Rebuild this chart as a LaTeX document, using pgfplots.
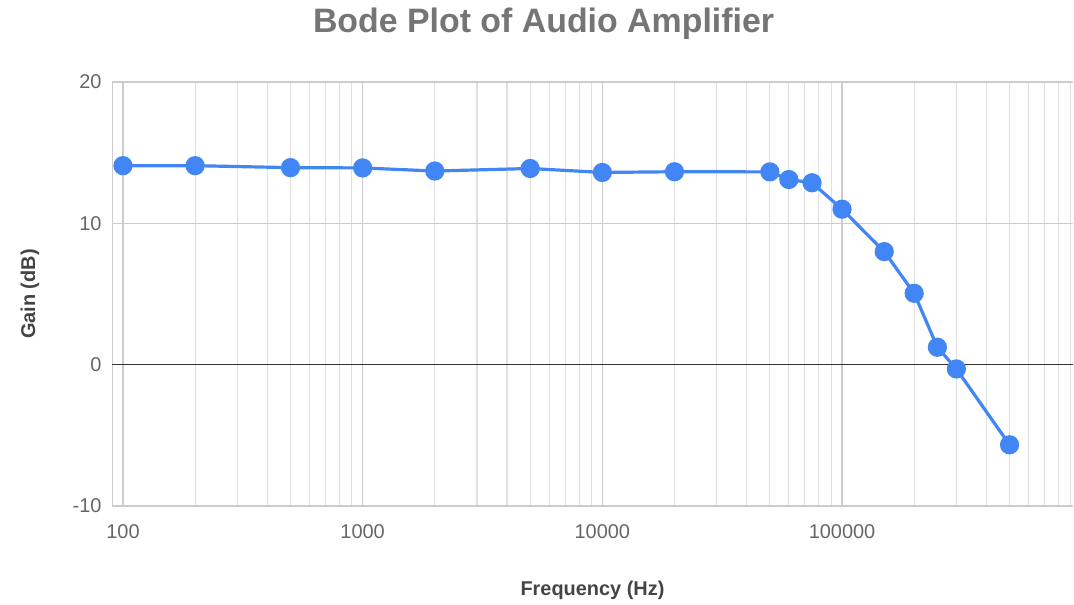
\documentclass[border=0pt]{standalone}
\usepackage{pgfplots}
\pgfplotsset{compat=1.18}
\usepackage{fontspec}
\setmainfont{Liberation Sans}
\definecolor{lineblue}{HTML}{4285F4}
\definecolor{titlegray}{HTML}{757575}
\definecolor{tickgray}{HTML}{666666}
\definecolor{labelgray}{HTML}{444444}
\definecolor{majgrid}{HTML}{CCCCCC}
\definecolor{mingrid}{HTML}{E0E0E0}
\begin{document}
\begin{tikzpicture}
\path[use as bounding box] (0,0) rectangle (1074bp,605bp);
\begin{axis}[
  at={(112bp,99bp)}, anchor=south west,
  scale only axis, width=961bp, height=424bp,
  xmode=log, xmin=90, xmax=920000,
  ymin=-10, ymax=20,
  ytick={-10,0,10,20},
  xtick={100,1000,10000,100000},
  xticklabels={100,1000,10000,100000},
  minor xtick={200,300,400,500,600,700,800,900,2000,3000,4000,5000,6000,7000,8000,9000,20000,30000,40000,50000,60000,70000,80000,90000,200000,300000,400000,500000,600000,700000,800000,900000},
  grid=both,
  major grid style={majgrid, line width=1.1bp},
  minor grid style={mingrid, line width=1.1bp},
  extra y ticks={0},
  extra y tick labels={},
  extra y tick style={grid=major, major grid style={black!80, line width=1.3bp}},
  axis line style={majgrid, line width=1bp},
  axis x line*=bottom, axis y line*=left,
  major tick length=0pt, minor tick length=0pt,
  tick style={draw=none},
  /pgf/number format/assume math mode=true,
  ticklabel style={font=\fontsize{20}{22}\selectfont, text=tickgray},
  xticklabel style={yshift=-15bp},
  yticklabel style={xshift=-7bp},
  title={Bode Plot of Audio Amplifier},
  title style={font=\fontsize{34}{38}\selectfont\bfseries, text=titlegray, at={(axis description cs:0.5,1)}, anchor=center, yshift=52bp, xshift=-49bp},
  xlabel={Frequency (Hz)},
  xlabel style={font=\fontsize{20}{22}\selectfont\bfseries, text=labelgray, at={(axis description cs:0.5,0)}, anchor=center, yshift=-84bp},
  ylabel={Gain (dB)},
  ylabel style={font=\fontsize{20}{22}\selectfont\bfseries, text=labelgray, at={(axis description cs:-0.0853,0.5)}, anchor=center},
  clip=false,
]
\addplot[color=lineblue, line width=3.2bp, mark=*, mark size=8bp, mark options={fill=lineblue, draw=none}] coordinates {
(100,14.08) (200,14.08) (500,13.94) (1000,13.92) (2000,13.7) (5000,13.88)
(10000,13.6) (20000,13.65) (50000,13.64) (60000,13.1) (75000,12.87)
(100000,11.0) (150000,8.0) (200000,5.05) (250000,1.23) (300000,-0.3) (500000,-5.67)
};
\end{axis}
\end{tikzpicture}
\end{document}
